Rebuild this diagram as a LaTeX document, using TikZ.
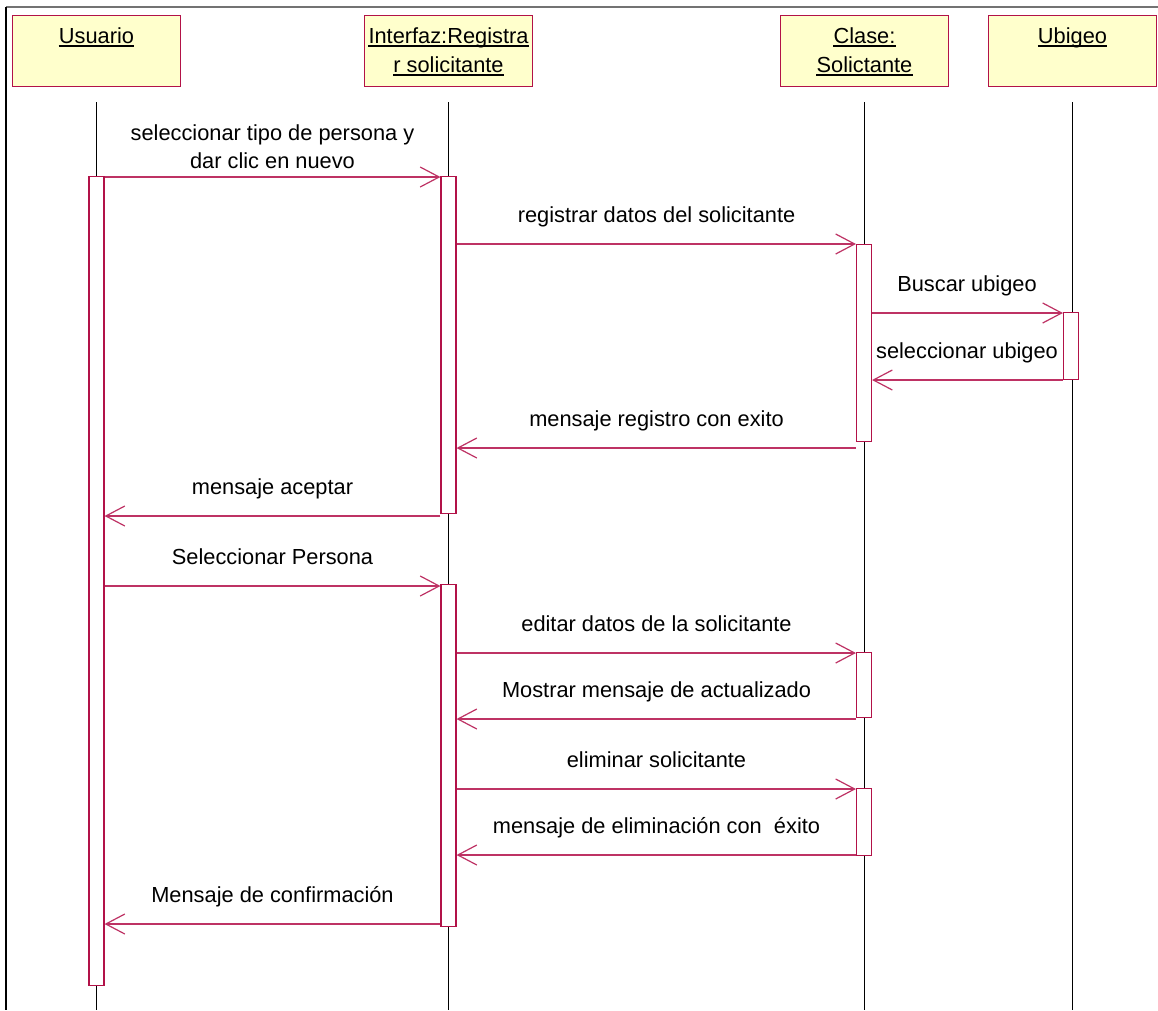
\documentclass[tikz,border=0pt]{standalone}
\usepackage{fontspec}
\setmainfont{Liberation Sans}
\usetikzlibrary{arrows.meta}
\definecolor{umlred}{RGB}{178,18,72}
\definecolor{msgred}{RGB}{190,50,100}
\definecolor{hdrfill}{RGB}{255,255,204}
\begin{document}
\begin{tikzpicture}[x=1pt,y=-1pt,
  every node/.style={font=\fontsize{21.8}{29}\selectfont},
  hdr/.style={draw=umlred,line width=1.1pt,fill=hdrfill,minimum width=168pt,minimum height=71pt,anchor=north,inner sep=0},
  htxt/.style={anchor=base,inner sep=0},
  uline/.style={line width=1.3pt,black},
  life/.style={line width=1.6pt,black},
  act/.style={draw=umlred,line width=1.1pt,fill=white,minimum width=15pt,anchor=north,inner sep=0},
  msg/.style={draw=msgred,line width=1.2pt,-{Straight Barb[length=19pt,width=20pt]}},
  lbl/.style={anchor=base,inner sep=0}]
\fill[white] (0,0) rectangle (1158,1010);
\useasboundingbox (0,0) rectangle (1158,1010);
% frame
\draw[line width=2pt,black!55] (6,7) -- (1158,7);
\draw[line width=1.4pt,black] (6,7) -- (6,1010);
% headers
\node[hdr] (usr) at (96.5,15) {};
\node[hdr] (itf) at (448.5,15) {};
\node[hdr] (cls) at (864.5,15) {};
\node[hdr] (ubi) at (1072.5,15) {};
\node[htxt] (usrT) at (96.5,43) {Usuario};
\node[htxt] (itfT1) at (448.5,43) {Interfaz:Registra};
\node[htxt] (itfT2) at (448.5,72) {r solicitante};
\node[htxt] (clsT1) at (864.5,43) {Clase:\ };
\node[htxt] (clsT2) at (864.5,72) {Solictante};
\node[htxt] (ubiT) at (1072.5,43) {Ubigeo};
\foreach \t in {usrT,itfT1,itfT2,clsT1,clsT2,ubiT}
  \draw[uline] ([yshift=-3pt]\t.base west) -- ([yshift=-3pt]\t.base east);
% lifelines
\draw[life] (usr.south |- 0,102) -- (usr.south |- 0,1010);
\draw[life] (itf.south |- 0,102) -- (itf.south |- 0,1010);
\draw[life] (cls.south |- 0,102) -- (cls.south |- 0,1010);
\draw[life] (ubi.south |- 0,102) -- (ubi.south |- 0,1010);
% activations
\node[act,minimum height=809pt] (uA) at (96.5,176) {};
\node[act,minimum height=337pt] (iA1) at (448.5,176) {};
\node[act,minimum height=342pt] (iA2) at (448.5,584) {};
\node[act,minimum height=197pt] (cA1) at (864,244) {};
\node[act,minimum height=65pt] (cA2) at (864,652) {};
\node[act,minimum height=67pt] (cA3) at (864,788) {};
\node[act,minimum height=67pt] (bA) at (1071,312) {};
% messages
\draw[msg] (uA.east |- 0,177) -- (iA1.west |- 0,177);
\draw[msg] (iA1.east |- 0,244) -- (cA1.west |- 0,244);
\draw[msg] (cA1.east |- 0,313) -- (bA.west |- 0,313);
\draw[msg] (bA.west |- 0,380) -- (cA1.east |- 0,380);
\draw[msg] (cA1.west |- 0,448) -- (iA1.east |- 0,448);
\draw[msg] (iA1.west |- 0,516) -- (uA.east |- 0,516);
\draw[msg] (uA.east |- 0,586) -- (iA2.west |- 0,586);
\draw[msg] (iA2.east |- 0,653) -- (cA2.west |- 0,653);
\draw[msg] (cA2.west |- 0,719) -- (iA2.east |- 0,719);
\draw[msg] (iA2.east |- 0,789) -- (cA3.west |- 0,789);
\draw[msg] (cA3.west |- 0,855) -- (iA2.east |- 0,855);
\draw[msg] (iA2.west |- 0,924) -- (uA.east |- 0,924);
% labels
\node[lbl] (l1a) at (272.5,140) {seleccionar tipo de persona y};
\node[lbl] (l1b) at (272.5,168) {dar clic en nuevo};
\node[lbl] (l2) at (656.5,222.5) {registrar datos del solicitante};
\node[lbl] (l3) at (967,291.5) {Buscar ubigeo};
\node[lbl] (l4) at (967,358.5) {seleccionar ubigeo};
\node[lbl] (l5) at (656.5,426.5) {mensaje registro con exito};
\node[lbl] (l6) at (272.5,494.5) {mensaje aceptar};
\node[lbl] (l7) at (272.5,564.5) {Seleccionar Persona};
\node[lbl] (l8) at (656.5,631.5) {editar datos de la solicitante};
\node[lbl] (l9) at (656.5,697.5) {Mostrar mensaje de actualizado};
\node[lbl] (l10) at (656.5,767.5) {eliminar solicitante};
\node[lbl] (l11) at (656.5,833.5) {mensaje de eliminación con\ \ éxito};
\node[lbl] (l12) at (272.5,902.5) {Mensaje de confirmación};
\end{tikzpicture}
\end{document}
